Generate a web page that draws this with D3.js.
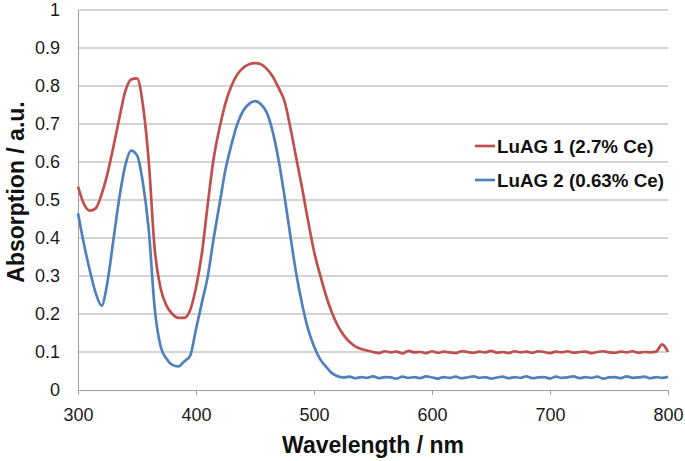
<!DOCTYPE html>
<html><head><meta charset="utf-8">
<script src="https://cdn.jsdelivr.net/npm/d3@7/dist/d3.min.js"></script>
<style>
html,body{margin:0;padding:0;background:#fff;}
text{font-family:"Liberation Sans",Arial,sans-serif;}
</style>
</head><body>
<svg id="chart" width="685" height="461"></svg>
<script>
const wavelengths = [300,305,310,315,320,325,330,335,340,345,350,355,360,365,370,375,380,385,390,395,
400,405,410,415,420,425,430,435,440,445,450,455,460,465,470,475,480,485,490,495,
500,505,510,515,520,525,530,535,540,545,550,555,560,565,570,575,580,585,590,595,
600,605,610,615,620,625,630,635,640,645,650,655,660,665,670,675,680,685,690,695,
700,705,710,715,720,725,730,735,740,745,750,755,760,765,770,775,780,785,790,795,800];

const luag1 = [0.535,0.490,0.472,0.478,0.515,0.570,0.640,0.715,0.785,0.817,0.820,0.750,0.600,0.370,0.268,0.222,0.200,0.190,0.190,0.210,
0.270,0.360,0.490,0.610,0.690,0.755,0.800,0.830,0.848,0.857,0.860,0.857,0.845,0.825,0.795,0.760,0.690,0.610,0.530,0.445,
0.365,0.305,0.250,0.205,0.170,0.145,0.127,0.115,0.108,0.104,0.100,0.097,0.102,0.099,0.101,0.096,0.103,0.099,0.100,0.097,
0.102,0.098,0.101,0.099,0.097,0.102,0.100,0.098,0.101,0.099,0.103,0.098,0.100,0.097,0.102,0.099,0.101,0.098,0.102,0.100,
0.097,0.101,0.099,0.102,0.098,0.100,0.101,0.097,0.100,0.102,0.099,0.098,0.101,0.099,0.102,0.098,0.100,0.099,0.101,0.120,0.100];

const luag2 = [0.465,0.385,0.315,0.255,0.222,0.285,0.395,0.505,0.590,0.630,0.618,0.545,0.420,0.215,0.115,0.082,0.066,0.062,0.075,0.090,
0.160,0.230,0.300,0.400,0.490,0.580,0.645,0.700,0.735,0.753,0.760,0.752,0.730,0.680,0.605,0.510,0.405,0.305,0.225,0.160,
0.115,0.082,0.062,0.045,0.036,0.033,0.035,0.031,0.034,0.032,0.036,0.031,0.034,0.033,0.030,0.035,0.032,0.034,0.031,0.036,
0.033,0.030,0.034,0.032,0.035,0.031,0.033,0.036,0.032,0.034,0.030,0.033,0.035,0.031,0.034,0.032,0.036,0.031,0.033,0.034,
0.030,0.035,0.032,0.033,0.036,0.031,0.034,0.032,0.035,0.030,0.033,0.034,0.031,0.036,0.032,0.033,0.035,0.031,0.034,0.032,0.035];

const seriesNames = ["LuAG 1 (2.7% Ce)", "LuAG 2 (0.63% Ce)"];
const seriesColors = ["#c0504d", "#4f81bd"];
const xTicks = [300,400,500,600,700,800];
const yTicks = [0,0.1,0.2,0.3,0.4,0.5,0.6,0.7,0.8,0.9,1];
const xTitle = "Wavelength / nm";
const yTitle = "Absorption / a.u.";

const svg = d3.select("#chart");
const m = {left:78, right:668, top:10, bottom:390};
const x = d3.scaleLinear().domain([300,800]).range([m.left, m.right]);
const y = d3.scaleLinear().domain([0,1]).range([m.bottom, m.top]);

// gridlines
svg.append("g").selectAll("line").data(yTicks.filter(d=>d>0)).join("line")
  .attr("x1", m.left).attr("x2", m.right)
  .attr("y1", d=>y(d)).attr("y2", d=>y(d))
  .attr("stroke", "#a9a9a9").attr("stroke-width", 1);

// y axis
const yAxis = svg.append("g").attr("transform", `translate(${m.left},0)`)
  .call(d3.axisLeft(y).tickValues(yTicks).tickSize(0).tickPadding(18)
    .tickFormat(d => d === 0 ? "0" : d === 1 ? "1" : d3.format(".1f")(d)));
yAxis.select(".domain").attr("stroke", "#a0a0a0");
yAxis.selectAll("text").attr("font-size", 18).attr("fill", "#1a1a1a")
  .attr("font-family", "Liberation Sans, Arial, sans-serif");

// x axis
const xAxis = svg.append("g").attr("transform", `translate(0,${m.bottom})`)
  .call(d3.axisBottom(x).tickValues(xTicks).tickSize(5).tickSizeOuter(0).tickPadding(13));
xAxis.select(".domain").attr("stroke", "#a0a0a0");
xAxis.selectAll(".tick line").attr("stroke", "#a0a0a0");
xAxis.selectAll("text").attr("font-size", 18).attr("fill", "#1a1a1a")
  .attr("font-family", "Liberation Sans, Arial, sans-serif");

// lines
const series = [luag1, luag2];
const line = d3.line().x((d,i)=>x(wavelengths[i])).y(d=>y(d)).curve(d3.curveMonotoneX);
series.forEach((s,k)=>{
  svg.append("path").datum(s).attr("d", line)
    .attr("fill","none").attr("stroke", seriesColors[k])
    .attr("stroke-width", 2.7).attr("stroke-linejoin","round");
});

// legend
const leg = svg.append("g");
seriesNames.forEach((name,k)=>{
  const yy = 146 + k*34;
  leg.append("line").attr("x1",475).attr("x2",495).attr("y1",yy).attr("y2",yy)
    .attr("stroke", seriesColors[k]).attr("stroke-width", 2.7);
  leg.append("text").attr("x",497).attr("y",yy+7).text(name)
    .attr("font-size",18.8).attr("font-weight","bold").attr("fill","#111");
});

// titles
svg.append("text").attr("x", 373).attr("y", 453).attr("text-anchor","middle")
  .attr("font-size", 23).attr("font-weight","bold").attr("fill","#111").text(xTitle);
svg.append("text").attr("transform","translate(24,192) rotate(-90)").attr("text-anchor","middle")
  .attr("font-size", 23).attr("font-weight","bold").attr("fill","#111").text(yTitle);
</script>
</body></html>
